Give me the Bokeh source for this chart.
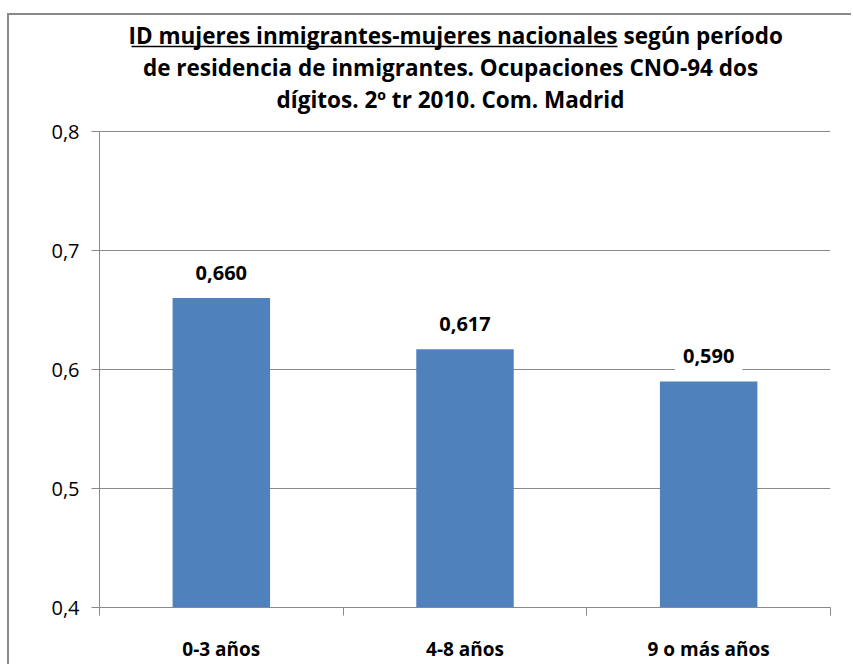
from bokeh.plotting import figure
from bokeh.models import Range1d, FixedTicker, Label, CustomJSTickFormatter
from bokeh.core.properties import value
from bokeh.embed import file_html
from bokeh.resources import INLINE

# ---- data ----
categories = ["0-3 años", "4-8 años", "9 o más años"]
values = [0.660, 0.617, 0.590]
value_labels = ["0,660", "0,617", "0,590"]
y_ticks = [0.4, 0.5, 0.6, 0.7, 0.8]
title_underlined = "ID mujeres inmigrantes-mujeres nacionales"
title_rest = "según período"
title_line2 = "de residencia de inmigrantes. Ocupaciones CNO-94 dos"
title_line3 = "dígitos. 2º tr 2010. Com. Madrid"

# ---- style / layout ----
FONT = "Open Sans"
GRAY = "#898989"
BAR = "#4F81BD"
ORIGIN_X, ORIGIN_Y = 9, 15           # canvas origin on the page
FRAME_L, FRAME_R, FRAME_T, FRAME_B = 99, 830, 20, 607
PAGE_W, PAGE_H = 853, 666
PX_PER_UNIT = 1190.0
Y0, Y1 = y_ticks[0], y_ticks[-1]

frame_w = FRAME_R - FRAME_L
frame_h = FRAME_B - FRAME_T
n = len(categories)


def xd(px):
    return (px - FRAME_L) / frame_w * n


def yd(py):
    return Y0 + (FRAME_B - py) / PX_PER_UNIT


p = figure(frame_width=frame_w, frame_height=frame_h,
           min_border_left=FRAME_L - ORIGIN_X,
           min_border_right=PAGE_W - FRAME_R,
           min_border_top=FRAME_T - ORIGIN_Y,
           min_border_bottom=PAGE_H - FRAME_B,
           x_range=Range1d(0, n), y_range=Range1d(Y0, yd(FRAME_T)),
           output_backend="svg", toolbar_location=None, tools="")
p.outline_line_color = None
p.background_fill_color = "white"
p.border_fill_color = "white"
# chart-area border: only its top and left edges fall inside the window
p.styles = {"position": "relative", "left": f"{ORIGIN_X}px", "top": f"{ORIGIN_Y}px",
            "box-shadow": f"-2px -2px 0 0 {GRAY}"}

centers = [i + 0.5 for i in range(n)]

# bars
p.vbar(x=centers, top=values, bottom=Y0, width=0.4, fill_color=BAR, line_color=None)

# value labels
p.text(x=centers, y=values, text=value_labels, text_align="center",
       text_baseline="alphabetic", y_offset=-25,
       text_font=value(FONT), text_font_style="bold", text_font_size="20px",
       text_color="black", background_fill_color="white", padding=8)

# grid
p.xgrid.visible = False
p.ygrid.ticker = FixedTicker(ticks=y_ticks)
p.ygrid.bounds = (Y0, Y1)
p.ygrid.grid_line_color = GRAY
p.ygrid.grid_line_width = 1

# y axis
ya = p.yaxis[0]
ya.ticker = FixedTicker(ticks=y_ticks)
ya.bounds = (Y0, Y1)
ya.formatter = CustomJSTickFormatter(code="return tick.toFixed(1).replace('.', ',');")
ya.axis_line_color = GRAY
ya.major_tick_line_color = GRAY
ya.major_tick_out = 8
ya.major_tick_in = 0
ya.minor_tick_line_color = None
ya.major_label_standoff = 12
ya.major_label_text_font = FONT
ya.major_label_text_font_size = "20px"
ya.major_label_text_color = "black"

# x axis
xa = p.xaxis[0]
xa.ticker = FixedTicker(ticks=centers, minor_ticks=list(range(n + 1)))
xa.major_label_overrides = {c: cat for c, cat in zip(centers, categories)}
xa.axis_line_color = GRAY
xa.major_tick_line_color = None
xa.major_tick_out = 0
xa.major_tick_in = 0
xa.minor_tick_line_color = GRAY
xa.minor_tick_out = 8
xa.minor_tick_in = 0
xa.major_label_standoff = 20
xa.major_label_text_font = FONT
xa.major_label_text_font_style = "bold"
xa.major_label_text_font_size = "19px"
xa.major_label_text_color = "black"

# title
TITLE_SIZE = "22.5px"
for txt, px, py, align in [(title_underlined, 617, 35, "right"),
                           (title_rest, 623, 35, "left"),
                           (title_line2, 450, 67, "center"),
                           (title_line3, 450, 99, "center")]:
    p.add_layout(Label(x=xd(px), y=yd(py), text=txt, text_align=align,
                       text_baseline="middle", text_font=FONT,
                       text_font_style="bold", text_font_size=TITLE_SIZE,
                       text_color="black"))
p.segment(x0=[xd(131)], y0=[yd(46)], x1=[xd(617)], y1=[yd(46)],
          line_color="black", line_width=1.5)

open("out.html", "w").write(file_html(p, INLINE))
